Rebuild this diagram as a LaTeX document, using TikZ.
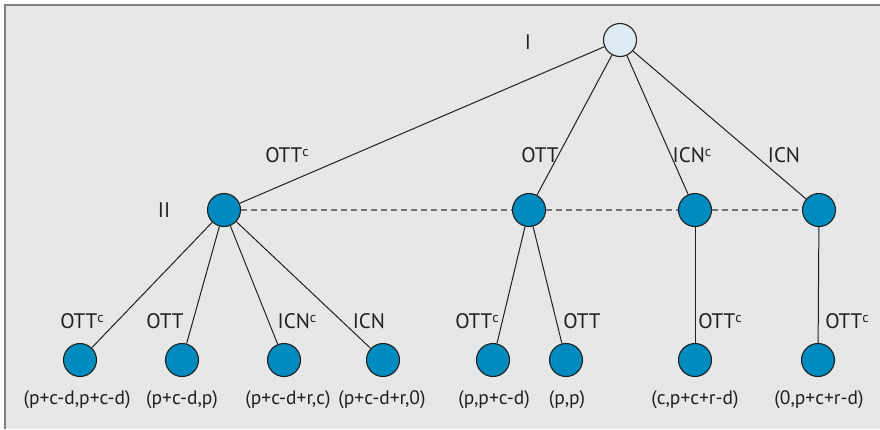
\documentclass[tikz,border=0pt]{standalone}
\usepackage{fontspec}
\setmainfont{PT Sans}
\definecolor{bgc}{HTML}{E6E7E8}
\definecolor{framec}{HTML}{808080}
\definecolor{nodeblue}{HTML}{008BBF}
\definecolor{rootfill}{HTML}{DEEBF5}
\definecolor{linec}{HTML}{231F20}
\newcommand{\supc}{\raisebox{0.3em}{\fontsize{14}{14}\selectfont c}}
\begin{document}
\begin{tikzpicture}[x=1pt,y=-1pt,
  dec/.style={circle,draw=linec,line width=1.1pt,minimum size=33pt,inner sep=0pt,fill=nodeblue},
  rootnode/.style={dec,fill=rootfill},
  br/.style={draw=linec,line width=1pt},
  info/.style={draw=framec!90!black,line width=1.1pt,dash pattern=on 6pt off 4pt},
  lab/.style={font=\fontsize{21}{23}\selectfont,text=linec,inner sep=0pt},
  pay/.style={font=\fontsize{19.5}{21}\selectfont,text=linec,inner sep=0pt}]
\useasboundingbox (0,0) rectangle (880,429);
\fill[bgc] (5,5) rectangle (880,429);
\draw[framec,line width=2pt] (5,429) -- (5,5) -- (880,5);
% nodes
\node[rootnode] (r) at (620,40) {};
\node[dec] (a) at (224,210) {};
\node[dec] (b) at (529,210) {};
\node[dec] (c) at (695,210) {};
\node[dec] (d) at (819,210) {};
\node[dec] (l1) at (80,360) {};
\node[dec] (l2) at (182,360) {};
\node[dec] (l3) at (284,360) {};
\node[dec] (l4) at (383,360) {};
\node[dec] (l5) at (493,360) {};
\node[dec] (l6) at (566,360) {};
\node[dec] (l7) at (695,360) {};
\node[dec] (l8) at (818,360) {};
% edges
\draw[br] (r) -- (a);
\draw[br] (r) -- (b);
\draw[br] (r) -- (c);
\draw[br] (r) -- (d);
\draw[br] (a) -- (l1);
\draw[br] (a) -- (l2);
\draw[br] (a) -- (l3);
\draw[br] (a) -- (l4);
\draw[br] (b) -- (l5);
\draw[br] (b) -- (l6);
\draw[br] (c) -- (l7);
\draw[br] (d) -- (l8);
\draw[info] (a) -- (b);
\draw[info] (b) -- (c);
\draw[info] (c) -- (d);
% player labels
\node[lab] (pI) at (528,42) {I};
\node[lab] (pII) at (164,210) {II};
% branch labels
\node[lab] (e1) at (287,155) {OTT\supc};
\node[lab] (e2) at (540,155) {OTT};
\node[lab] (e3) at (692,155) {ICN\supc};
\node[lab] (e4) at (784,155) {ICN};
\node[lab] (f1) at (82,321) {OTT\supc};
\node[lab] (f2) at (165,321) {OTT};
\node[lab] (f3) at (297,321) {ICN\supc};
\node[lab] (f4) at (369,321) {ICN};
\node[lab] (f5) at (477,321) {OTT\supc};
\node[lab] (f6) at (582,321) {OTT};
\node[lab] (f7) at (720,321) {OTT\supc};
\node[lab] (f8) at (847,321) {OTT\supc};
% payoffs
\node[pay] (p1) at (77,400) {(p+c-d,p+c-d)};
\node[pay] (p2) at (182,400) {(p+c-d,p)};
\node[pay] (p3) at (288,400) {(p+c-d+r,c)};
\node[pay] (p4) at (382,400) {(p+c-d+r,0)};
\node[pay] (p5) at (494,400) {(p,p+c-d)};
\node[pay] (p6) at (567,400) {(p,p)};
\node[pay] (p7) at (695,400) {(c,p+c+r-d)};
\node[pay] (p8) at (819,400) {(0,p+c+r-d)};
\end{tikzpicture}
\end{document}
